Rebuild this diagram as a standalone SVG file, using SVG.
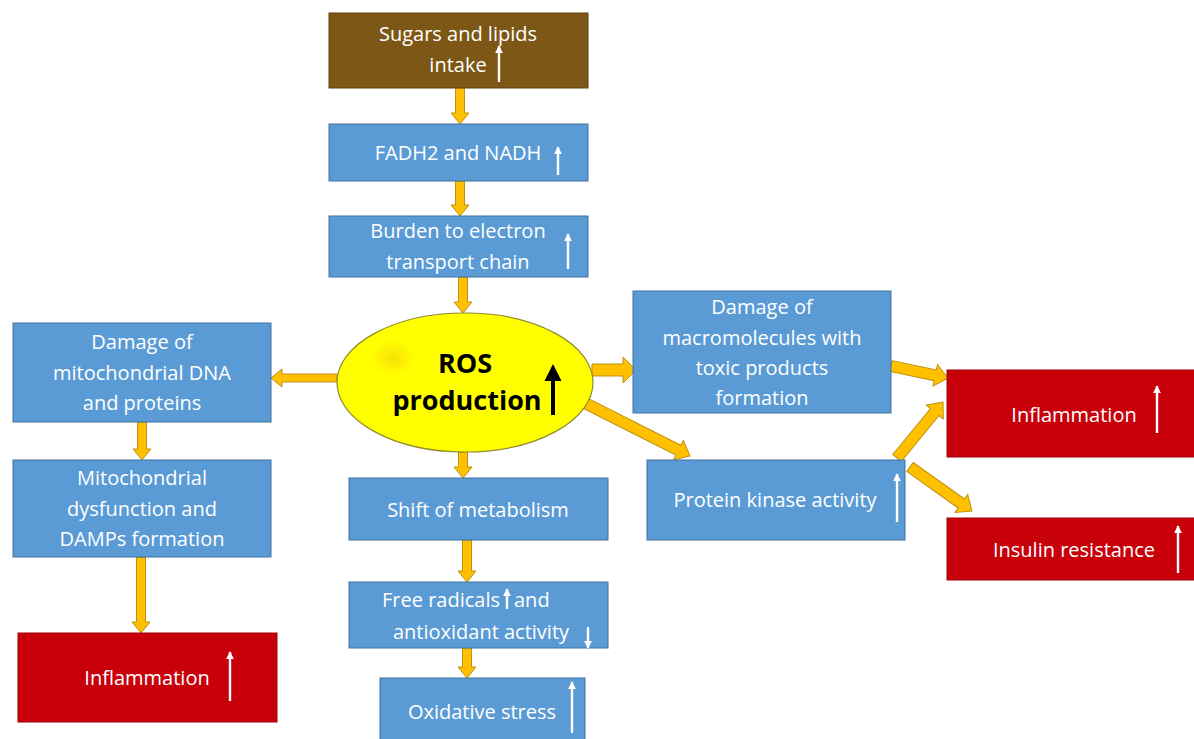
<svg xmlns="http://www.w3.org/2000/svg" width="1194" height="739" viewBox="0 0 1194 739">
<style>
.bx{fill:#5b9bd5;stroke:#41719c;stroke-width:1}
.rd{fill:#c8000a;stroke:#a00008;stroke-width:1}
.br{fill:#7d5716;stroke:#5e4010;stroke-width:1}
.t{font-family:"Open Sans","Liberation Sans",sans-serif;font-size:20px;fill:#ffffff;text-anchor:middle}
.ros{font-family:"Open Sans","Liberation Sans",sans-serif;font-size:27px;font-weight:bold;fill:#000000;text-anchor:middle}
.ya{fill:#ffc000;stroke:#c09010;stroke-width:1}
.wa{stroke:#ffffff;stroke-width:2.4;fill:none;marker-end:url(#wh)}
</style>
<defs>
<marker id="wh" viewBox="0 0 10 10" refX="9" refY="5" markerWidth="8" markerHeight="8" markerUnits="userSpaceOnUse" orient="auto">
<path d="M0,0 L10,5 L0,10 z" fill="#ffffff"/>
</marker>
<radialGradient id="blot" cx="0.5" cy="0.5" r="0.5">
<stop offset="0" stop-color="#f2c80a" stop-opacity="0.55"/>
<stop offset="1" stop-color="#f2c80a" stop-opacity="0"/>
</radialGradient>
</defs>
<rect width="1194" height="739" fill="#ffffff"/>

<g id="connectors">
<polygon class="ya" points="455.5,88 464.5,88 464.5,113 469,113 460,124 451,113 455.5,113"/>
<polygon class="ya" points="455.5,181 464.5,181 464.5,205 469,205 460,216 451,205 455.5,205"/>
<polygon class="ya" points="458.5,277 467.5,277 467.5,302 472,302 463,313 454,302 458.5,302"/>
<polygon class="ya" points="458.5,452 467.5,452 467.5,467 472,467 463,478 454,467 458.5,467"/>
<polygon class="ya" points="462.5,540 471.5,540 471.5,571 476,571 467,582 458,571 462.5,571"/>
<polygon class="ya" points="462.5,648 471.5,648 471.5,667 476,667 467,678 458,667 462.5,667"/>
<polygon class="ya" points="137.5,422 146.5,422 146.5,449 151,449 142,460 133,449 137.5,449"/>
<polygon class="ya" points="136.5,557 145.5,557 145.5,622 150,622 141,633 132,622 136.5,622"/>
<polygon class="ya" points="337,374 282,374 282,369 271,378 282,387 282,382 337,382"/>
<polygon class="ya" points="592,364 623,364 623,357 636,370 623,383 623,376 592,376"/>
<polygon class="ya" transform="translate(585 403) rotate(26.8)" points="0,-5.5 104.6,-5.5 104.6,-11 117.6,0 104.6,11 104.6,5.5 0,5.5"/>
<polygon class="ya" transform="translate(891 366) rotate(11.9)" points="0,-5.5 45.2,-5.5 45.2,-11 58.2,0 45.2,11 45.2,5.5 0,5.5"/>
<polygon class="ya" transform="translate(897 458) rotate(-50.6)" points="0,-5.5 59.5,-5.5 59.5,-11 72.5,0 59.5,11 59.5,5.5 0,5.5"/>
<polygon class="ya" transform="translate(910 467) rotate(35.4)" points="0,-5.5 63,-5.5 63,-11 76,0 63,11 63,5.5 0,5.5"/>
</g>

<g id="n-sugars">
<rect class="br" x="329" y="13" width="259" height="75"/>
<text class="t" x="458" y="41">Sugars and lipids</text>
<text class="t" x="458" y="72">intake</text>
<line class="wa" x1="499" y1="82" x2="499" y2="46"/>
</g>

<g id="n-fadh">
<rect class="bx" x="329" y="124" width="259" height="57"/>
<text class="t" x="458" y="160">FADH2 and NADH</text>
<line class="wa" x1="558" y1="175" x2="558" y2="147"/>
</g>

<g id="n-burden">
<rect class="bx" x="329" y="216" width="259" height="61"/>
<text class="t" x="458" y="238">Burden to electron</text>
<text class="t" x="458" y="269">transport chain</text>
<line class="wa" x1="568" y1="269" x2="568" y2="234"/>
</g>

<g id="n-ros">
<ellipse cx="465" cy="382.5" rx="128" ry="69.5" fill="#ffff00" stroke="#8f8c2a" stroke-width="1.2"/>
<ellipse cx="393" cy="358" rx="22" ry="18" fill="url(#blot)"/>
<text class="ros" x="465" y="373">ROS</text>
<text class="ros" x="467" y="410">production</text>
<line x1="553" y1="415" x2="553" y2="378" stroke="#000000" stroke-width="4"/>
<polygon points="544.5,381 553,364 561.5,381" fill="#000000"/>
</g>

<g id="n-mtdna">
<rect class="bx" x="13" y="323" width="258" height="99"/>
<text class="t" x="142" y="349">Damage of</text>
<text class="t" x="142" y="380">mitochondrial DNA</text>
<text class="t" x="142" y="410">and proteins</text>
</g>

<g id="n-dysf">
<rect class="bx" x="13" y="460" width="258" height="97"/>
<text class="t" x="142" y="485">Mitochondrial</text>
<text class="t" x="142" y="516">dysfunction and</text>
<text class="t" x="142" y="546">DAMPs formation</text>
</g>

<g id="n-infl-left">
<rect class="rd" x="18" y="633" width="259" height="89"/>
<text class="t" x="147" y="685">Inflammation</text>
<line class="wa" x1="230" y1="701" x2="230" y2="652"/>
</g>

<g id="n-macro">
<rect class="bx" x="633" y="291" width="258" height="122"/>
<text class="t" x="762" y="314">Damage of</text>
<text class="t" x="762" y="345">macromolecules with</text>
<text class="t" x="762" y="375">toxic products</text>
<text class="t" x="762" y="405">formation</text>
</g>

<g id="n-pk">
<rect class="bx" x="647" y="460" width="258" height="80"/>
<text class="t" x="775" y="507">Protein kinase activity</text>
<line class="wa" x1="897" y1="522" x2="897" y2="474"/>
</g>

<g id="n-infl-right">
<rect class="rd" x="947" y="370" width="250" height="87"/>
<text class="t" x="1074" y="422">Inflammation</text>
<line class="wa" x1="1157" y1="433" x2="1157" y2="386"/>
</g>

<g id="n-insulin">
<rect class="rd" x="947" y="518" width="250" height="62"/>
<text class="t" x="1074" y="557">Insulin resistance</text>
<line class="wa" x1="1178" y1="573" x2="1178" y2="526"/>
</g>

<g id="n-shift">
<rect class="bx" x="349" y="478" width="259" height="62"/>
<text class="t" x="478" y="517">Shift of metabolism</text>
</g>

<g id="n-free">
<rect class="bx" x="349" y="582" width="259" height="66"/>
<text class="t" x="500" y="607" text-anchor="end" style="text-anchor:end">Free radicals</text>
<text class="t" x="514" y="607" text-anchor="start" style="text-anchor:start">and</text>
<text class="t" x="481" y="639">antioxidant activity</text>
<line class="wa" x1="507" y1="609" x2="507" y2="589"/>
<line class="wa" x1="588" y1="627" x2="588" y2="648"/>
</g>

<g id="n-oxid">
<rect class="bx" x="380" y="678" width="205" height="65"/>
<text class="t" x="482" y="719">Oxidative stress</text>
<line class="wa" x1="572" y1="733" x2="572" y2="682"/>
</g>
</svg>
